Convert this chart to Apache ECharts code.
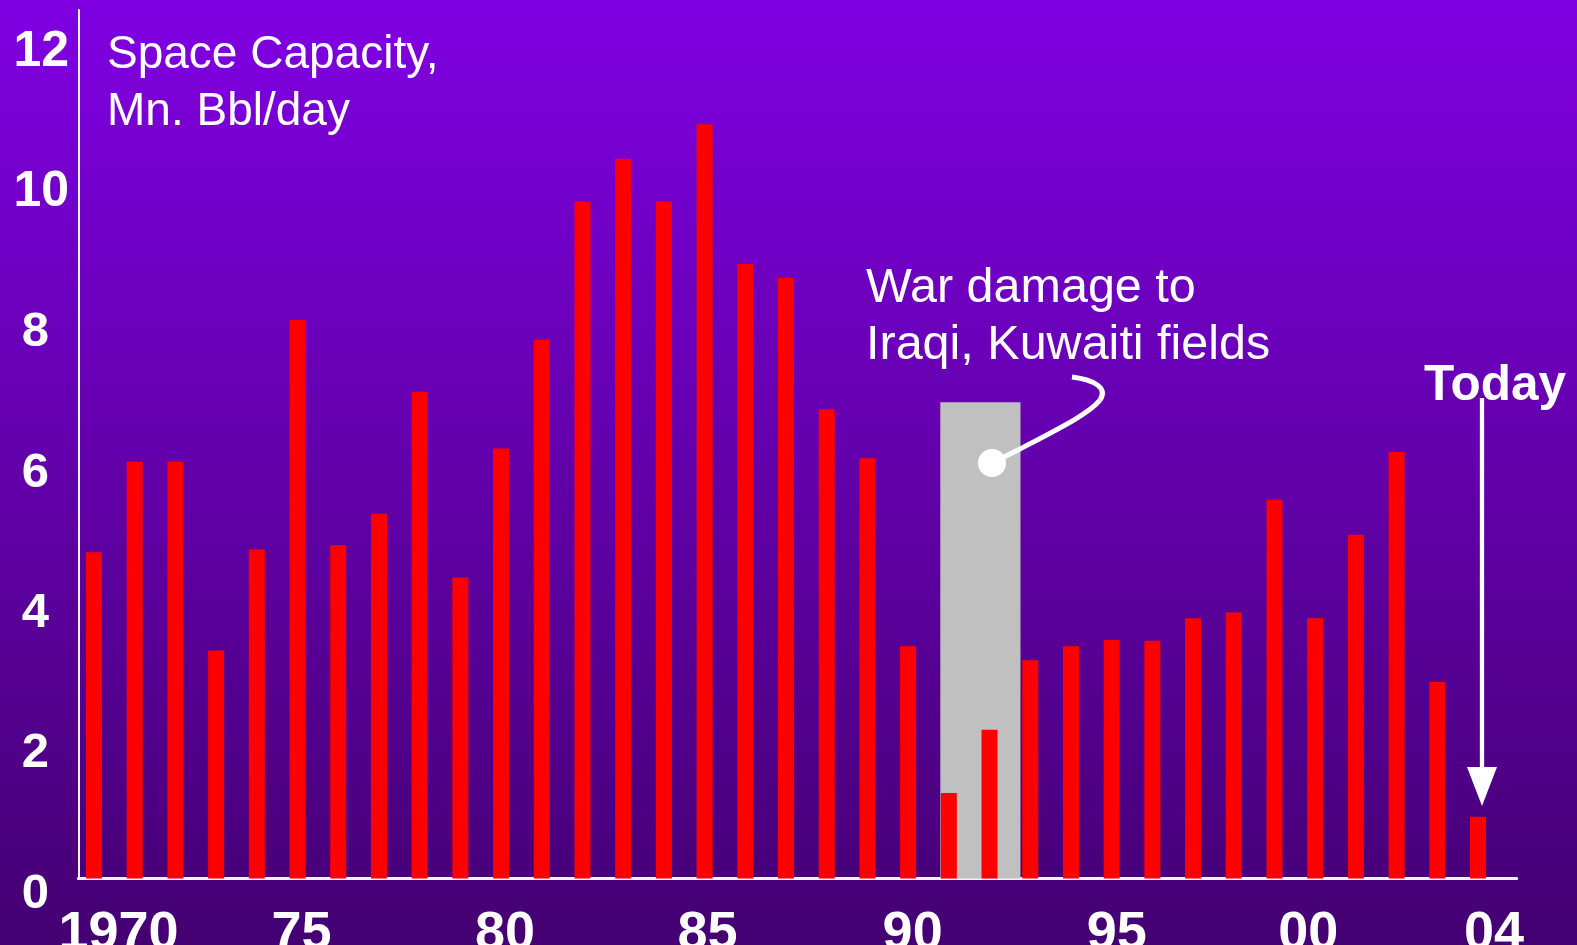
<!DOCTYPE html>
<html>
<head>
<meta charset="utf-8">
<script src="https://cdn.jsdelivr.net/npm/echarts@6/dist/echarts.min.js"></script>
<style>
html,body{margin:0;padding:0;width:1577px;height:945px;overflow:hidden;}
#c{width:1577px;height:945px;}
</style>
</head>
<body>
<div id="c"></div>
<script>
// ---- data ----
const years = [1970,1971,1972,1973,1974,1975,1976,1977,1978,1979,
               1980,1981,1982,1983,1984,1985,1986,1987,1988,1989,
               1990,1991,1992,1993,1994,1995,1996,1997,1998,1999,
               2000,2001,2002,2003,2004];
const spareCapacity = [4.65,5.94,5.94,3.25,4.69,7.96,4.75,5.20,6.94,4.29,
                       6.13,7.68,9.65,10.26,9.65,10.75,8.76,8.56,6.69,5.99,
                       3.31,1.22,2.12,3.11,3.31,3.40,3.39,3.71,3.79,5.40,
                       3.71,4.90,6.08,2.80,0.88];
const xTickValues = [1970,1975,1980,1985,1990,1995,2000,2004];
const xTickLabels = ['1970','75','80','85','90','95','00','04'];
const yTickValues = [0,2,4,6,8,10,12];
const warPeriod = [1990.79, 1992.76, 6.79]; // from, to, height
const titleLines = ['Space Capacity,', 'Mn. Bbl/day'];
const noteLines = ['War damage to', 'Iraqi, Kuwaiti fields'];
const todayLabel = 'Today';

// ---- styling helpers (positions kept separate from data) ----
const xLabelNudge = [24.5, 4, 4, 3, 4.5, 5, -7, 16];
const FONT = '"Liberation Sans", Arial, Helvetica, sans-serif';

const chart = echarts.init(document.getElementById('c'), null, {renderer:'canvas'});

const xRich = {};
xLabelNudge.forEach((s, i) => {
  xRich['l' + i] = {
    fontSize: 54, fontWeight: 'bold', color: '#ffffff', fontFamily: FONT,
    padding: s >= 0 ? [0, 0, 0, 2 * s] : [0, -2 * s, 0, 0]
  };
});

const option = {
  backgroundColor: {
    type: 'linear', x: 0, y: 0, x2: 0, y2: 1,
    colorStops: [{offset: 0, color: '#8000E2'}, {offset: 1, color: '#440072'}]
  },
  animation: false,
  grid: {left: 78.3, right: 60.3, top: 10, bottom: 66.5, containLabel: false, outerBoundsMode: 'none'},
  xAxis: {
    type: 'value', min: 1969.614, max: 2004.95,
    splitLine: {show: false},
    axisLine: {show: true, onZero: false, lineStyle: {color: '#F6F2FA', width: 3}},
    axisTick: {show: false},
    axisLabel: {
      customValues: xTickValues,
      margin: 29,
      verticalAlign: 'top',
      formatter: function (v) {
        const i = xTickValues.indexOf(Math.round(v));
        return i < 0 ? '' : '{l' + i + '|' + xTickLabels[i] + '}';
      },
      rich: xRich
    }
  },
  yAxis: {
    type: 'value', min: 0, max: 12.38,
    splitLine: {show: false},
    axisLine: {show: true, lineStyle: {color: '#F6F2FA', width: 2}},
    axisTick: {show: false},
    axisLabel: {
      customValues: yTickValues,
      margin: 40,
      align: 'center',
      verticalAlign: 'middle',
      formatter: function (v) {
        const s = String(Math.round(v));
        return s.length > 1 ? '{d|' + s + '}' : '{s|' + s + '}';
      },
      rich: {
        d: {fontSize: 50, fontWeight: 'bold', color: '#fff', fontFamily: FONT, padding: [31, 0, 0, 6]},
        s: {fontSize: 49, fontWeight: 'bold', color: '#fff', fontFamily: FONT, padding: [31, 6, 0, 0]}
      }
    }
  },
  series: [
    {
      type: 'custom',
      z: 1,
      silent: true,
      data: [warPeriod],
      renderItem: function (params, api) {
        const p0 = api.coord([api.value(0), api.value(2)]);
        const p1 = api.coord([api.value(1), 0]);
        return {
          type: 'rect',
          shape: {x: p0[0], y: p0[1], width: p1[0] - p0[0], height: p1[1] - p0[1]},
          style: {fill: '#C0C0C0'}
        };
      }
    },
    {
      type: 'bar',
      z: 3,
      barWidth: 16,
      itemStyle: {color: '#FF0000'},
      data: years.map((y, i) => [y, spareCapacity[i]])
    }
  ],
  graphic: [
    {type: 'text', x: 107, y: 55, style: {text: titleLines[0], fill: '#fff', font: '46px ' + FONT, textVerticalAlign: 'middle'}},
    {type: 'text', x: 107, y: 112, style: {text: titleLines[1], fill: '#fff', font: '46px ' + FONT, textVerticalAlign: 'middle'}},
    {type: 'text', x: 866, y: 289, style: {text: noteLines[0], fill: '#fff', font: '48.5px ' + FONT, textVerticalAlign: 'middle'}},
    {type: 'text', x: 866, y: 346, style: {text: noteLines[1], fill: '#fff', font: '48.5px ' + FONT, textVerticalAlign: 'middle'}},
    {type: 'text', x: 1424, y: 386, style: {text: todayLabel, fill: '#fff', font: 'bold 49.5px ' + FONT, textVerticalAlign: 'middle'}},
    {type: 'line', z: 10, shape: {x1: 992, y1: 463, x2: 1020, y2: 449}, style: {stroke: '#fff', lineWidth: 5}},
    {type: 'bezierCurve', z: 10, shape: {x1: 1020, y1: 449, cpx1: 1060, cpy1: 428, cpx2: 1090, cpy2: 413, x2: 1100, y2: 400},
      style: {stroke: '#fff', lineWidth: 5, fill: null}},
    {type: 'bezierCurve', z: 10, shape: {x1: 1100, y1: 400, cpx1: 1108, cpy1: 388, cpx2: 1095, cpy2: 380, x2: 1072, y2: 377},
      style: {stroke: '#fff', lineWidth: 5, fill: null}},
    {type: 'circle', z: 10, shape: {cx: 992, cy: 463, r: 14}, style: {fill: '#fff'}},
    {type: 'line', z: 10, shape: {x1: 1482, y1: 398, x2: 1482, y2: 775}, style: {stroke: '#fff', lineWidth: 4.3}},
    {type: 'polygon', z: 10, shape: {points: [[1467, 767], [1497, 767], [1482, 806]]}, style: {fill: '#fff'}}
  ]
};
chart.setOption(option);
</script>
</body>
</html>
